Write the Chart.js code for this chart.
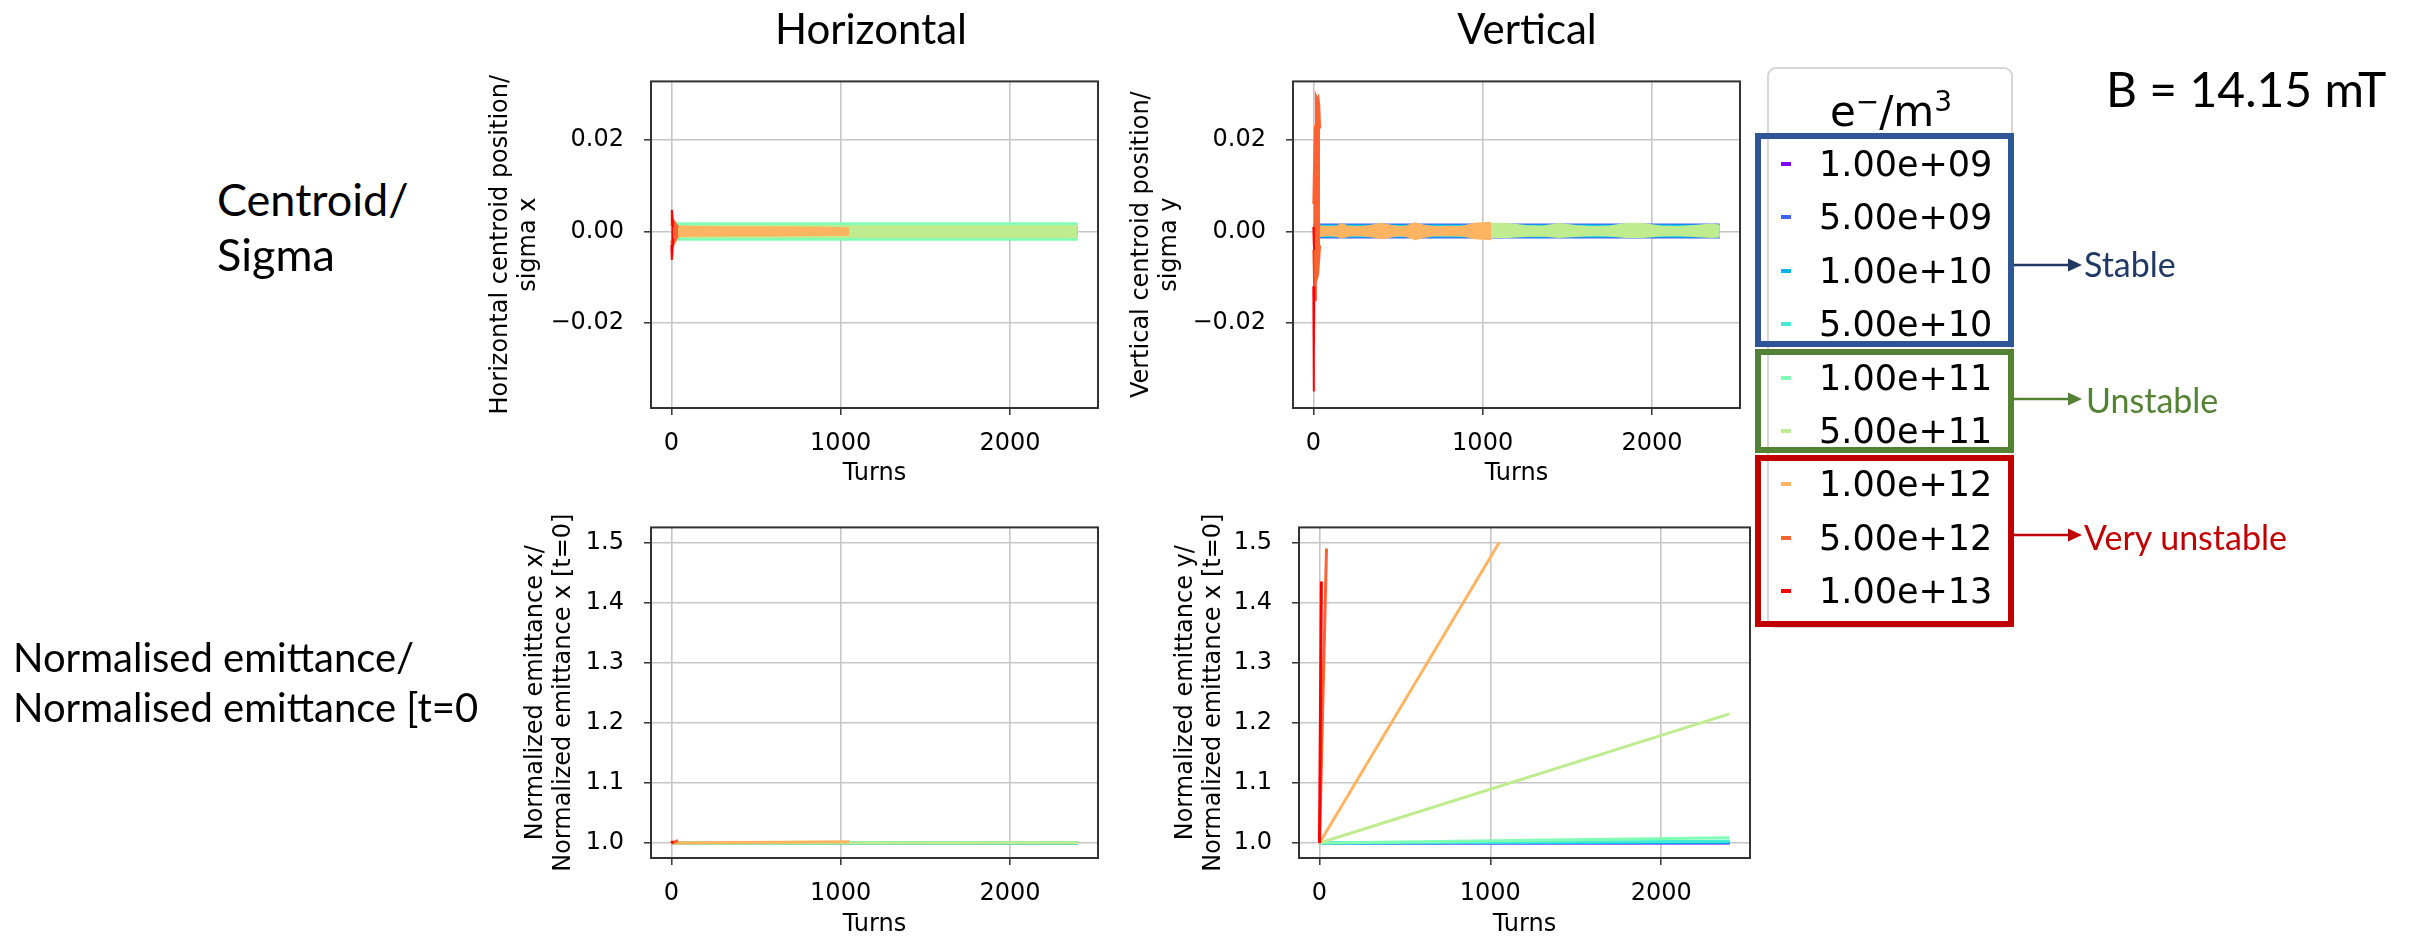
<!DOCTYPE html>
<html>
<head>
<meta charset="utf-8">
<script src="https://cdn.jsdelivr.net/npm/chart.js@4.4.1/dist/chart.umd.min.js"></script>
<style>
  html, body { margin: 0; padding: 0; background: #fff; overflow: hidden; }
  #page { position: relative; width: 2412px; height: 937px; overflow: hidden; background: #fff; }
  canvas.plot { position: absolute; }
  .txt { position: absolute; line-height: 0; white-space: nowrap; font-family: Lato, 'Open Sans', sans-serif; color: #000; }
  .center { transform: translateX(-50%); }
  #legend { position: absolute; left: 1767px; top: 67px; width: 246px; height: 561px; box-sizing: border-box;
            border: 2px solid #d6d6d6; border-radius: 9px; background: #fff; }
  .group { position: absolute; box-sizing: border-box; border: 6px solid; }
  .row { position: absolute; line-height: 0; font-family: 'DejaVu Sans', sans-serif; font-size: 35px; color: #000; }
  .mark { position: absolute; width: 10px; height: 4px; }
</style>
</head>
<body>
<div id="page">
  <canvas id="centroidH" class="plot" width="616" height="441" style="left:486px;top:47px"></canvas>
  <canvas id="centroidV" class="plot" width="617" height="441" style="left:1127px;top:47px"></canvas>
  <canvas id="emitH" class="plot" width="581" height="446" style="left:521px;top:493px"></canvas>
  <canvas id="emitV" class="plot" width="583" height="446" style="left:1171px;top:493px"></canvas>

  <div class="txt center" style="left:871px;top:28px;font-size:42px">Horizontal</div>
  <div class="txt center" style="left:1527px;top:28px;font-size:42px">Vertical</div>
  <div class="txt" style="left:217px;top:199px;font-size:45px">Centroid/</div>
  <div class="txt" style="left:217px;top:254px;font-size:45px">Sigma</div>
  <div class="txt" style="left:13px;top:657px;font-size:40px">Normalised emittance/</div>
  <div class="txt" style="left:13px;top:707px;font-size:40px">Normalised emittance [t=0</div>
  <div class="txt" style="left:2106px;top:89px;font-size:48px">B = 14.15 mT</div>

  <div id="legend">
    <div class="row center" style="left:122px;top:33px;font-size:42px">e<sup style="font-size:28px;vertical-align:15px">&minus;</sup>/m<sup style="font-size:28px;vertical-align:15px">3</sup></div>
  </div>
  <div class="group" style="left:1755px;top:133px;width:259px;height:214px;border-color:#2F5597"></div>
  <div class="group" style="left:1755px;top:349px;width:259px;height:104px;border-color:#548235"></div>
  <div class="group" style="left:1755px;top:455px;width:259px;height:172px;border-color:#C00000"></div>
  <div id="rows"></div>

  <svg style="position:absolute;left:0;top:0" width="2412" height="937">
    <line x1="2014" y1="265" x2="2070" y2="265" stroke="#203864" stroke-width="2.5"/>
    <polygon points="2068,258.5 2082,265 2068,271.5" fill="#203864"/>
    <line x1="2014" y1="399" x2="2070" y2="399" stroke="#548235" stroke-width="2.5"/>
    <polygon points="2068,392.5 2082,399 2068,405.5" fill="#548235"/>
    <line x1="2014" y1="535" x2="2070" y2="535" stroke="#C00000" stroke-width="2.5"/>
    <polygon points="2068,528.5 2082,535 2068,541.5" fill="#C00000"/>
  </svg>
  <div class="txt" style="left:2084px;top:264px;font-size:34px;color:#203864">Stable</div>
  <div class="txt" style="left:2086px;top:400px;font-size:34px;color:#548235">Unstable</div>
  <div class="txt" style="left:2084px;top:537px;font-size:34px;color:#C00000">Very unstable</div>
</div>

<script>
// Electron cloud densities (e-/m^3) and their colours
const densityLabels = ['1.00e+09', '5.00e+09', '1.00e+10', '5.00e+10', '1.00e+11', '5.00e+11', '1.00e+12', '5.00e+12', '1.00e+13'];
const seriesColors = ['#8000ff', '#4062fa', '#00b4ec', '#40ecd4', '#80ffb4', '#bfec8e', '#ffb462', '#ff6232', '#ff0000'];

const turnTicks = [0, 1000, 2000];
const centroidTicks = [-0.02, 0, 0.02];
const emittanceTicks = [1.0, 1.1, 1.2, 1.3, 1.4, 1.5];

// Horizontal centroid / sigma x : oscillation envelope (upper / lower) per density
const hCentroidTurns = [
  [0, 2400], [0, 2400], [0, 2400], [0, 2400],
  [0, 600, 1200, 1800, 2400],
  [0, 600, 1200, 1800, 2400],
  [40, 300, 600, 900, 1050],
  [0, 5, 10, 20, 30, 40],
  [0, 3, 6, 10]
];
const hCentroidHigh = [
  [0.0008, 0.0008], [0.0009, 0.0009], [0.0009, 0.0009], [0.0010, 0.0010],
  [0.0018, 0.0018, 0.0018, 0.0018, 0.0018],
  [0.0012, 0.0012, 0.0012, 0.0012, 0.0012],
  [0.0010, 0.0009, 0.0009, 0.0008, 0.0007],
  [0.0012, 0.0024, 0.0025, 0.0021, 0.0015, 0.0010],
  [0.0020, 0.0047, 0.0038, 0.0010]
];
const hCentroidLow = [
  [-0.0008, -0.0008], [-0.0009, -0.0009], [-0.0009, -0.0009], [-0.0010, -0.0010],
  [-0.0018, -0.0018, -0.0018, -0.0018, -0.0018],
  [-0.0012, -0.0012, -0.0012, -0.0012, -0.0012],
  [-0.0010, -0.0009, -0.0009, -0.0008, -0.0007],
  [-0.0020, -0.0034, -0.0032, -0.0024, -0.0016, -0.0010],
  [-0.0030, -0.0062, -0.0050, -0.0015]
];

// Vertical centroid / sigma y : oscillation envelope (upper / lower) per density
const vCentroidTurns = [
  [0, 2400], [0, 2400], [0, 2400], [0, 2400],
  [0, 300, 600, 900, 1200, 1500, 1800, 2100, 2400],
  [0, 150, 300, 450, 600, 750, 900, 1050, 1150, 1250, 1350, 1450, 1550, 1650, 1750, 1850, 1950, 2050, 2150, 2250, 2350, 2400],
  [20, 60, 100, 140, 170, 200, 250, 300, 350, 400, 450, 500, 550, 600, 650, 700, 750, 800, 850, 900, 950, 1000, 1050],
  [0, 5, 10, 15, 20, 25, 30, 35, 40],
  [0, 2, 4, 6]
];
const vCentroidHigh = [
  [0.0014, 0.0014], [0.0015, 0.0015], [0.0013, 0.0013], [0.0011, 0.0011],
  [0.0009, 0.0005, 0.0010, 0.0006, 0.0010, 0.0005, 0.0010, 0.0006, 0.0009],
  [0.0008, 0.0009, 0.0008, 0.0010, 0.0009, 0.0008, 0.0010, 0.0017, 0.0016, 0.0012, 0.0010, 0.0016, 0.0012, 0.0009, 0.0011, 0.0017, 0.0016, 0.0011, 0.0009, 0.0012, 0.0015, 0.0013],
  [0.0013, 0.0010, 0.0009, 0.0011, 0.0016, 0.0011, 0.0009, 0.0010, 0.0013, 0.0017, 0.0013, 0.0009, 0.0011, 0.0018, 0.0013, 0.0010, 0.0009, 0.0010, 0.0009, 0.0012, 0.0017, 0.0018, 0.0019],
  [0.0060, 0.0160, 0.0230, 0.0297, 0.0292, 0.0288, 0.0293, 0.0275, 0.0225],
  [0.0010, -0.0010, -0.0030, -0.0040]
];
const vCentroidLow = [
  [-0.0012, -0.0012], [-0.0013, -0.0013], [-0.0011, -0.0011], [-0.0009, -0.0009],
  [-0.0008, -0.0004, -0.0009, -0.0005, -0.0009, -0.0004, -0.0009, -0.0005, -0.0008],
  [-0.0007, -0.0008, -0.0007, -0.0009, -0.0008, -0.0007, -0.0009, -0.0012, -0.0012, -0.0010, -0.0009, -0.0012, -0.0010, -0.0008, -0.0009, -0.0012, -0.0012, -0.0009, -0.0008, -0.0010, -0.0012, -0.0011],
  [-0.0011, -0.0009, -0.0008, -0.0010, -0.0013, -0.0010, -0.0008, -0.0009, -0.0011, -0.0015, -0.0012, -0.0008, -0.0010, -0.0017, -0.0012, -0.0009, -0.0008, -0.0009, -0.0008, -0.0010, -0.0015, -0.0016, -0.0017],
  [-0.0040, -0.0120, -0.0150, -0.0110, -0.0105, -0.0100, -0.0085, -0.0060, -0.0030],
  [-0.0120, -0.0350, -0.0280, -0.0120]
];

// Normalised emittance x / emittance x[t=0]
const hEmitTurns = [[0, 2400], [0, 2400], [0, 2400], [0, 2400], [0, 2400], [0, 2400], [0, 1050], [0, 40], [0, 10]];
const hEmitValues = [[1.0, 1.0], [1.0, 1.0], [1.0, 1.0], [1.0, 1.0], [1.0, 1.0005], [1.0, 1.0005], [1.0, 1.002], [1.0, 1.004], [1.0, 1.003]];

// Normalised emittance y / emittance x[t=0]
const vEmitTurns = [[0, 2400], [0, 2400], [0, 2400], [0, 2400], [0, 2400], [0, 2400], [0, 1052], [0, 41], [0, 11]];
const vEmitValues = [[1.0, 1.0], [1.0, 1.0005], [1.0, 1.001], [1.0, 1.003], [1.0, 1.0085], [1.0, 1.2147], [1.0, 1.5], [1.0, 1.49], [1.0, 1.435]];

Chart.defaults.font.family = "'DejaVu Sans', sans-serif";
Chart.defaults.color = '#000';

const axisFont = { family: "'DejaVu Sans', sans-serif", size: 24, lineHeight: 1.2 };

// box round the plot area, drawn above the curves like matplotlib spines
const frame = {
  id: 'frame',
  afterDatasetsDraw(chart) {
    const { ctx, chartArea: a } = chart;
    ctx.save();
    ctx.strokeStyle = '#333';
    ctx.lineWidth = 2;
    ctx.strokeRect(a.left, a.top, a.right - a.left, a.bottom - a.top);
    ctx.restore();
  }
};

function bandDatasets(turns, high, low) {
  const sets = [];
  densityLabels.forEach((label, i) => {
    const color = seriesColors[i];
    sets.push({
      label: label,
      data: turns[i].map((t, k) => ({ x: t, y: high[i][k] })),
      borderColor: color, backgroundColor: color, borderWidth: 2,
      pointRadius: 0, fill: '+1', order: 8 - i
    });
    sets.push({
      label: label + ' low',
      data: turns[i].map((t, k) => ({ x: t, y: low[i][k] })),
      borderColor: color, backgroundColor: color, borderWidth: 2,
      pointRadius: 0, fill: false, order: 8 - i
    });
  });
  return sets;
}

function lineDatasets(turns, values) {
  return densityLabels.map((label, i) => ({
    label: label,
    data: turns[i].map((t, k) => ({ x: t, y: values[i][k] })),
    borderColor: seriesColors[i], backgroundColor: seriesColors[i],
    borderWidth: 3, pointRadius: 0, fill: false, order: 8 - i
  }));
}

function makeChart(id, datasets, y) {
  return new Chart(document.getElementById(id), {
    type: 'line',
    data: { datasets: datasets },
    options: {
      responsive: false,
      animation: false,
      devicePixelRatio: 1,
      layout: { padding: { top: 10, right: 4, left: 0, bottom: 0 } },
      plugins: { legend: { display: false }, tooltip: { enabled: false } },
      scales: {
        x: {
          type: 'linear', min: -120, max: 2520,
          afterBuildTicks: (axis) => { axis.ticks = turnTicks.map(v => ({ value: v })); },
          afterFit: (axis) => { axis.height = y.xHeight; },
          ticks: { font: axisFont, color: '#000', padding: 14, maxRotation: 0, autoSkip: false, callback: v => String(v) },
          grid: { color: '#c6c6c6', lineWidth: 1.6, tickColor: '#333', tickLength: 7, tickWidth: 1.5 },
          border: { display: false },
          title: { display: true, text: 'Turns', font: axisFont, color: '#000', padding: { top: 0, bottom: 0 } }
        },
        y: {
          type: 'linear', min: y.min, max: y.max,
          afterBuildTicks: (axis) => { axis.ticks = y.ticks.map(v => ({ value: v })); },
          afterFit: (axis) => { axis.width = y.width; },
          ticks: { font: axisFont, color: '#000', padding: 20, autoSkip: false, callback: y.format },
          grid: { color: '#c6c6c6', lineWidth: 1.6, tickColor: '#333', tickLength: 7, tickWidth: 1.5 },
          border: { display: false },
          title: { display: true, text: y.title, font: axisFont, color: '#000', padding: { top: 0, bottom: 0 } }
        }
      }
    },
    plugins: [frame]
  });
}

const centroidFormat = v => (v < 0 ? '\u2212' : '') + Math.abs(v).toFixed(2);
const emitFormat = v => v.toFixed(1);

makeChart('centroidH', bandDatasets(hCentroidTurns, hCentroidHigh, hCentroidLow), {
  min: -0.0386, max: 0.0328, ticks: centroidTicks, format: centroidFormat,
  title: ['Horizontal centroid position/', 'sigma x'], width: 165, xHeight: 80
});
makeChart('centroidV', bandDatasets(vCentroidTurns, vCentroidHigh, vCentroidLow), {
  min: -0.0386, max: 0.0328, ticks: centroidTicks, format: centroidFormat,
  title: ['Vertical centroid position/', 'sigma y'], width: 166, xHeight: 80
});
makeChart('emitH', lineDatasets(hEmitTurns, hEmitValues), {
  min: 0.975, max: 1.525, ticks: emittanceTicks, format: emitFormat,
  title: ['Normalized emittance x/', 'Normalized emittance x [t=0]'], width: 130, xHeight: 81
});
makeChart('emitV', lineDatasets(vEmitTurns, vEmitValues), {
  min: 0.975, max: 1.525, ticks: emittanceTicks, format: emitFormat,
  title: ['Normalized emittance y/', 'Normalized emittance x [t=0]'], width: 128, xHeight: 81
});

// legend rows
const rows = document.getElementById('rows');
densityLabels.forEach((label, i) => {
  const cy = 164 + i * 53.4;
  const mark = document.createElement('div');
  mark.className = 'mark';
  mark.style.left = '1781px';
  mark.style.top = (cy - 2) + 'px';
  mark.style.background = seriesColors[i];
  rows.appendChild(mark);
  const text = document.createElement('div');
  text.className = 'row';
  text.style.left = '1819px';
  text.style.top = cy + 'px';
  text.textContent = label;
  rows.appendChild(text);
});
</script>
</body>
</html>
